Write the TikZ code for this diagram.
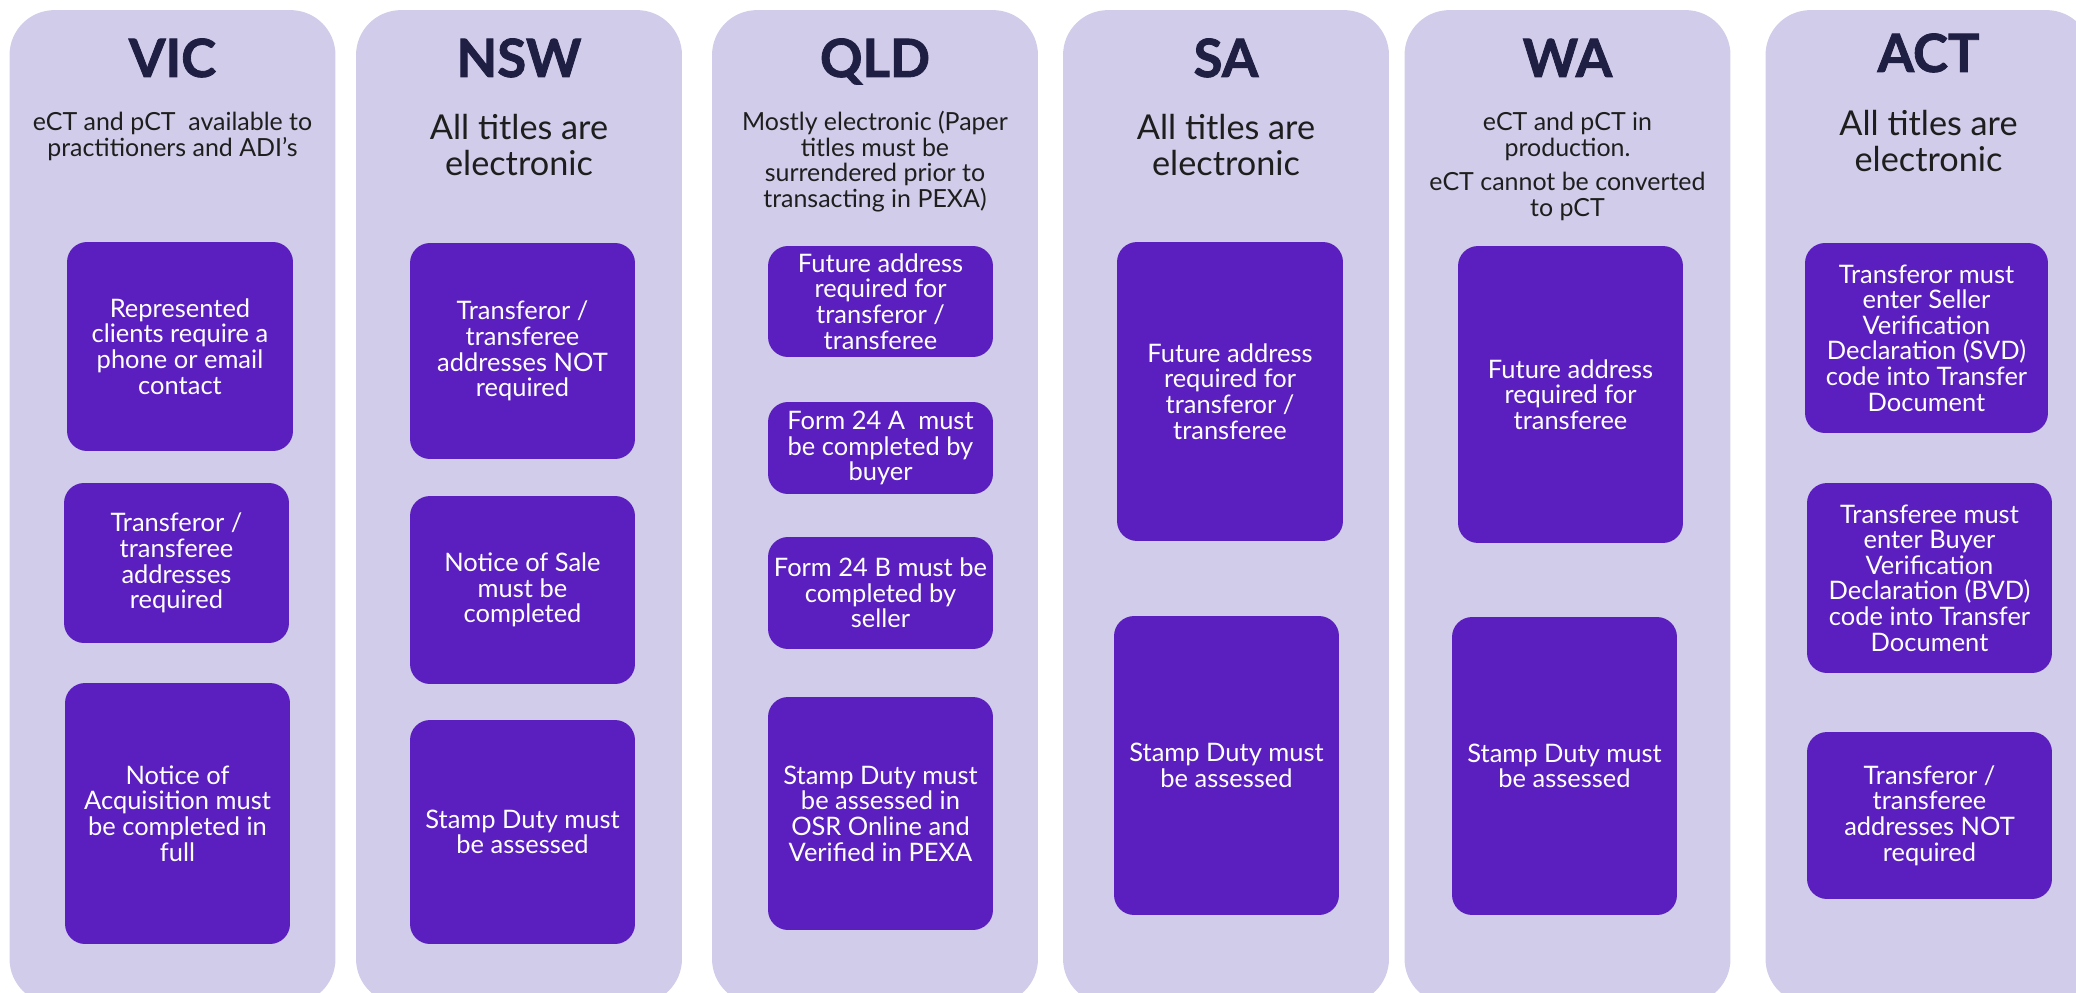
\documentclass[tikz,border=0pt]{standalone}
\usepackage{fontspec}
\setmainfont{Lato}
\usetikzlibrary{positioning}
\definecolor{colbg}{RGB}{209,204,233}
\definecolor{boxpurple}{RGB}{90,31,190}
\definecolor{titlenavy}{RGB}{31,31,68}
\definecolor{subdark}{RGB}{30,30,30}

\begin{document}
\begin{tikzpicture}[
    x=0.02cm, y=-0.02cm,
    colbox/.style={rectangle, fill=colbg, rounded corners=0.9cm, minimum width=6.52cm, minimum height=19.88cm, inner sep=0pt},
    statename/.style={anchor=base, text=titlenavy, font=\fontsize{30}{34}\selectfont\bfseries\addfontfeatures{FakeBold=1.6}},
    subnote/.style={align=center, text=subdark, font=\fontsize{14.2}{14.6}\selectfont},
    bigsubnote/.style={align=center, text=subdark, font=\fontsize{19.5}{20.5}\selectfont},
    req/.style={rectangle, fill=boxpurple, rounded corners=0.4cm, inner sep=0pt, align=center, text=white, font=\fontsize{14.5}{14.6}\selectfont}
]
\useasboundingbox (0,0) rectangle (2076,993);

% VIC
\node[colbox] (vic) at (172.5,507) {};
\node[statename] (vicname) at (172.5,77) {VIC};
\node[subnote] (vicsub) at (172.5,136.5) {eCT and pCT\ \ available to\\practitioners and ADI’s};
\node[req, minimum width=4.52cm, minimum height=4.18cm] (vic1) at (180,346.5) {Represented\\clients require a\\phone or email\\contact};
\node[req, minimum width=4.5cm, minimum height=3.2cm] (vic2) at (176.5,563) {Transferor /\\transferee\\addresses\\required};
\node[req, minimum width=4.5cm, minimum height=5.22cm] (vic3) at (177.5,813.5) {Notice of\\Acquisition must\\be completed in\\full};

% NSW
\node[colbox] (nsw) at (519,507) {};
\node[statename] (nswname) at (519,77) {NSW};
\node[bigsubnote] (nswsub) at (519,145) {All titles are\\electronic};
\node[req, minimum width=4.5cm, minimum height=4.32cm] (nsw1) at (522.5,351) {Transferor /\\transferee\\addresses NOT\\required};
\node[req, minimum width=4.5cm, minimum height=3.76cm] (nsw2) at (522.5,590) {Notice of Sale\\must be\\completed};
\node[req, minimum width=4.5cm, minimum height=4.48cm] (nsw3) at (522.5,832) {Stamp Duty must\\be assessed};

% QLD
\node[colbox] (qld) at (875,507) {};
\node[statename] (qldname) at (875,77) {QLD};
\node[subnote] (qldsub) at (875,161.5) {Mostly electronic (Paper\\titles must be\\surrendered prior to\\transacting in PEXA)};
\node[req, minimum width=4.5cm, minimum height=2.22cm] (qld1) at (880.5,301.5) {Future address\\required for\\transferor /\\transferee};
\node[req, minimum width=4.5cm, minimum height=1.84cm] (qld2) at (880.5,448) {Form 24 A\ \ must\\be completed by\\buyer};
\node[req, minimum width=4.5cm, minimum height=2.24cm] (qld3) at (880.5,593) {Form 24 B must be\\completed by\\seller};
\node[req, minimum width=4.5cm, minimum height=4.66cm] (qld4) at (880.5,813.5) {Stamp Duty must\\be assessed in\\OSR Online and\\Verified in PEXA};

% SA
\node[colbox] (sa) at (1226,507) {};
\node[statename] (saname) at (1226,77) {SA};
\node[bigsubnote] (sasub) at (1226,145) {All titles are\\electronic};
\node[req, minimum width=4.52cm, minimum height=5.98cm] (sa1) at (1230,391.5) {Future address\\required for\\transferor /\\transferee};
\node[req, minimum width=4.5cm, minimum height=5.98cm] (sa2) at (1226.5,765.5) {Stamp Duty must\\be assessed};

% WA
\node[colbox] (wa) at (1567.5,507) {};
\node[statename] (waname) at (1567.5,77) {WA};
\node[subnote] (wasub) at (1567.5,166.5) {eCT and pCT in\\production.\\[5pt]eCT cannot be converted\\to pCT};
\node[req, minimum width=4.5cm, minimum height=5.94cm] (wa1) at (1570.5,394.5) {Future address\\required for\\transferee};
\node[req, minimum width=4.5cm, minimum height=5.96cm] (wa2) at (1564.5,766) {Stamp Duty must\\be assessed};

% ACT
\node[colbox] (act) at (1928.5,507) {};
\node[statename] (actname) at (1928.5,72) {ACT};
\node[bigsubnote] (actsub) at (1928.5,141.5) {All titles are\\electronic};
\node[req, minimum width=4.86cm, minimum height=3.8cm] (act1) at (1926.5,338) {Transferor must\\enter Seller\\Verification\\Declaration (SVD)\\code into Transfer\\Document};
\node[req, minimum width=4.9cm, minimum height=3.8cm] (act2) at (1929.5,578) {Transferee must\\enter Buyer\\Verification\\Declaration (BVD)\\code into Transfer\\Document};
\node[req, minimum width=4.9cm, minimum height=3.34cm] (act3) at (1929.5,815.5) {Transferor /\\transferee\\addresses NOT\\required};

\end{tikzpicture}
\end{document}
